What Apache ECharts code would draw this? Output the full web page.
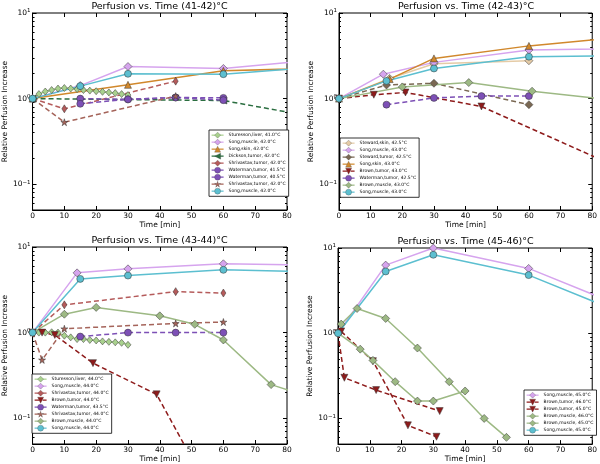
<!DOCTYPE html>
<html><head><meta charset="utf-8">
<script src="https://cdn.jsdelivr.net/npm/echarts@6/dist/echarts.min.js"></script>
<style>html,body{margin:0;padding:0;background:#fff}#c{width:600px;height:464px}</style>
</head><body><div id="c"></div><script>
// ---------- axis ticks ----------
const X_MIN = 0, X_MAX = 80, X_STEP = 10;
const Y_MIN = 0.05, Y_MAX = 10;
const Y_MAJOR = [0.1, 1, 10];
const Y_MINOR = [0.06, 0.07, 0.08, 0.09, 0.2, 0.3, 0.4, 0.5, 0.6, 0.7, 0.8, 0.9, 2, 3, 4, 5, 6, 7, 8, 9];
const TITLES = ['Perfusion vs. Time (41-42)°C', 'Perfusion vs. Time (42-43)°C', 'Perfusion vs. Time (43-44)°C', 'Perfusion vs. Time (45-46)°C'];
const X_NAME = 'Time [min]';
const Y_NAME = 'Relative Perfusion Increase';

// ---------- panel 1 (41-42 C) ----------
const p1_sturessonLiver41_t = [0, 2, 4, 6, 8, 10, 12, 14, 16, 18, 20, 22, 24, 26, 28, 30];
const p1_sturessonLiver41_v = [1.0, 1.13, 1.21, 1.26, 1.31, 1.33, 1.31, 1.29, 1.26, 1.24, 1.22, 1.20, 1.18, 1.16, 1.13, 1.10];
const p1_songMuscle42a_t = [0, 15, 30, 60, 120];
const p1_songMuscle42a_v = [1.0, 1.42, 2.37, 2.25, 3.6];
const p1_songSkin42_t = [0, 30, 60, 120];
const p1_songSkin42_v = [1.0, 1.45, 2.11, 2.42];
const p1_dicksonTumor42_t = [0, 60, 120];
const p1_dicksonTumor42_v = [1.0, 0.95, 0.377];
const p1_shrivastavTumor42a_t = [0, 10, 45];
const p1_shrivastavTumor42a_v = [1.0, 0.76, 1.6];
const p1_watermanTumor415_t = [15, 30, 45, 60];
const p1_watermanTumor415_v = [1.0, 0.98, 1.03, 1.02];
const p1_watermanTumor405_t = [15, 30, 45, 60];
const p1_watermanTumor405_v = [0.87, 0.98, 1.03, 0.96];
const p1_shrivastavTumor42b_t = [0, 10, 45];
const p1_shrivastavTumor42b_v = [1.0, 0.53, 1.07];
const p1_songMuscle42b_t = [0, 15, 30, 60, 120];
const p1_songMuscle42b_v = [1.0, 1.40, 1.95, 1.93, 2.84];

// ---------- panel 2 (42-43 C) ----------
const p2_stewardSkin425_t = [0, 16, 30, 60];
const p2_stewardSkin425_v = [1.0, 1.72, 2.55, 2.77];
const p2_songMuscle43a_t = [0, 14, 30, 60, 120];
const p2_songMuscle43a_v = [1.0, 1.93, 2.65, 3.7, 4.0];
const p2_stewardTumor425_t = [0, 15, 30, 60];
const p2_stewardTumor425_v = [1.0, 1.44, 1.51, 0.85];
const p2_songSkin43_t = [0, 16, 30, 60, 120];
const p2_songSkin43_v = [1.0, 1.69, 2.95, 4.13, 6.7];
const p2_brownTumor43_t = [0, 11, 21, 45, 120];
const p2_brownTumor43_v = [1.0, 1.11, 1.18, 0.81, 0.047];
const p2_watermanTumor425_t = [15, 30, 45, 60];
const p2_watermanTumor425_v = [0.85, 1.02, 1.07, 1.07];
const p2_brownMuscle43_t = [0, 20, 41, 61, 120];
const p2_brownMuscle43_v = [1.0, 1.37, 1.54, 1.22, 0.70];
const p2_songMuscle43b_t = [0, 15, 30, 60, 120];
const p2_songMuscle43b_v = [1.0, 1.61, 2.25, 3.09, 3.27];

// ---------- panel 3 (43-44 C) ----------
const p3_sturessonLiver44_t = [0, 2, 4, 6, 8, 10, 12, 14, 16, 18, 20, 22, 24, 26, 28, 30];
const p3_sturessonLiver44_v = [1.0, 1.0, 1.0, 1.01, 1.0, 0.92, 0.88, 0.84, 0.84, 0.82, 0.81, 0.79, 0.78, 0.77, 0.76, 0.72];
const p3_songMuscle44a_t = [0, 14, 30, 60, 120];
const p3_songMuscle44a_v = [1.0, 4.99, 5.56, 6.37, 5.86];
const p3_shrivastavTumor44a_t = [0, 10, 45, 60];
const p3_shrivastavTumor44a_v = [1.0, 2.11, 3.01, 2.9];
const p3_brownTumor44_t = [0, 3, 7, 19, 39, 60];
const p3_brownTumor44_v = [1.0, 1.0, 0.94, 0.44, 0.19, 0.0072];
const p3_watermanTumor435_t = [15, 30, 45, 60];
const p3_watermanTumor435_v = [0.90, 1.0, 1.0, 1.0];
const p3_shrivastavTumor44b_t = [0, 3, 10, 45, 60];
const p3_shrivastavTumor44b_v = [1.0, 0.48, 1.11, 1.28, 1.33];
const p3_brownMuscle44_t = [0, 10, 20, 40, 51, 60, 75, 90];
const p3_brownMuscle44_v = [1.0, 1.64, 1.97, 1.57, 1.25, 0.82, 0.247, 0.165];
const p3_songMuscle44b_t = [0, 15, 30, 60, 120];
const p3_songMuscle44b_v = [1.0, 4.24, 4.64, 5.41, 4.81];

// ---------- panel 4 (45-46 C) ----------
const p4_songMuscle45a_t = [0, 15, 30, 60, 90];
const p4_songMuscle45a_v = [1.0, 6.3, 9.98, 5.76, 2.03];
const p4_brownTumor46_t = [0, 2, 12, 32];
const p4_brownTumor46_v = [1.0, 0.30, 0.215, 0.122];
const p4_brownTumor45_t = [1, 11, 22, 31];
const p4_brownTumor45_v = [1.05, 0.47, 0.083, 0.061];
const p4_brownMuscle46_t = [0, 7, 11, 18, 25, 30, 40];
const p4_brownMuscle46_v = [1.0, 0.65, 0.48, 0.27, 0.16, 0.16, 0.21];
const p4_brownMuscle45_t = [1, 6, 15, 25, 35, 46, 53];
const p4_brownMuscle45_v = [1.28, 1.95, 1.49, 0.67, 0.27, 0.10, 0.06];
const p4_songMuscle45b_t = [0, 15, 30, 60, 90];
const p4_songMuscle45b_v = [1.0, 5.31, 8.33, 4.81, 1.69];

// ---------- styles ----------
const FONT = 'DejaVu Sans';
const STAR = 'path://M50 0 L61.8 35.1 L98.8 35.1 L68.9 56.8 L80.3 91.9 L50 70.2 L19.7 91.9 L31.1 56.8 L1.2 35.1 L38.2 35.1 Z';
const ST = {
  liver:  {color:'#a9d18e', symbol:'diamond', size:[6,7], dash:false},
  violet: {color:'#d6a4ee', symbol:'diamond', size:[8,8], dash:false},
  orange: {color:'#d1882c', symbol:'triangle', size:7, dash:false},
  dgreen: {color:'#2b6e40', symbol:'triangle', size:7, rotate:90, dash:true},
  shriv:  {color:'#b55b5b', symbol:'diamond', size:[5,8], dash:true},
  purple: {color:'#7d50b6', symbol:'circle', size:7, dash:true},
  star:   {color:'#a5645a', symbol:STAR, size:7, dash:true},
  cyan:   {color:'#5cbfd0', symbol:'circle', size:7, dash:false},
  beige:  {color:'#e5cba6', symbol:'diamond', size:[8,8], dash:false},
  taupe:  {color:'#7a6853', symbol:'diamond', size:[8,8], dash:true},
  dred:   {color:'#8e1b1b', symbol:'triangle', size:7, rotate:180, dash:true},
  sage:   {color:'#9db984', symbol:'diamond', size:[8,8], dash:false}
};

const PANELS = [
  [
    ['Sturesson,liver, 41.0°C', p1_sturessonLiver41_t, p1_sturessonLiver41_v, 'liver'],
    ['Song,muscle, 42.0°C', p1_songMuscle42a_t, p1_songMuscle42a_v, 'violet'],
    ['Song,skin, 42.0°C', p1_songSkin42_t, p1_songSkin42_v, 'orange'],
    ['Dickson,tumor, 42.0°C', p1_dicksonTumor42_t, p1_dicksonTumor42_v, 'dgreen'],
    ['Shrivastav,tumor, 42.0°C', p1_shrivastavTumor42a_t, p1_shrivastavTumor42a_v, 'shriv'],
    ['Waterman,tumor, 41.5°C', p1_watermanTumor415_t, p1_watermanTumor415_v, 'purple'],
    ['Waterman,tumor, 40.5°C', p1_watermanTumor405_t, p1_watermanTumor405_v, 'purple'],
    ['Shrivastav,tumor, 42.0°C', p1_shrivastavTumor42b_t, p1_shrivastavTumor42b_v, 'star'],
    ['Song,muscle, 42.0°C', p1_songMuscle42b_t, p1_songMuscle42b_v, 'cyan']
  ],
  [
    ['Steward,skin, 42.5°C', p2_stewardSkin425_t, p2_stewardSkin425_v, 'beige'],
    ['Song,muscle, 43.0°C', p2_songMuscle43a_t, p2_songMuscle43a_v, 'violet'],
    ['Steward,tumor, 42.5°C', p2_stewardTumor425_t, p2_stewardTumor425_v, 'taupe'],
    ['Song,skin, 43.0°C', p2_songSkin43_t, p2_songSkin43_v, 'orange'],
    ['Brown,tumor, 43.0°C', p2_brownTumor43_t, p2_brownTumor43_v, 'dred'],
    ['Waterman,tumor, 42.5°C', p2_watermanTumor425_t, p2_watermanTumor425_v, 'purple'],
    ['Brown,muscle, 43.0°C', p2_brownMuscle43_t, p2_brownMuscle43_v, 'sage'],
    ['Song,muscle, 43.0°C', p2_songMuscle43b_t, p2_songMuscle43b_v, 'cyan']
  ],
  [
    ['Sturesson,liver, 44.0°C', p3_sturessonLiver44_t, p3_sturessonLiver44_v, 'liver'],
    ['Song,muscle, 44.0°C', p3_songMuscle44a_t, p3_songMuscle44a_v, 'violet'],
    ['Shrivastav,tumor, 44.0°C', p3_shrivastavTumor44a_t, p3_shrivastavTumor44a_v, 'shriv'],
    ['Brown,tumor, 44.0°C', p3_brownTumor44_t, p3_brownTumor44_v, 'dred'],
    ['Waterman,tumor, 43.5°C', p3_watermanTumor435_t, p3_watermanTumor435_v, 'purple'],
    ['Shrivastav,tumor, 44.0°C', p3_shrivastavTumor44b_t, p3_shrivastavTumor44b_v, 'star'],
    ['Brown,muscle, 44.0°C', p3_brownMuscle44_t, p3_brownMuscle44_v, 'sage'],
    ['Song,muscle, 44.0°C', p3_songMuscle44b_t, p3_songMuscle44b_v, 'cyan']
  ],
  [
    ['Song,muscle, 45.0°C', p4_songMuscle45a_t, p4_songMuscle45a_v, 'violet'],
    ['Brown,tumor, 46.0°C', p4_brownTumor46_t, p4_brownTumor46_v, 'dred'],
    ['Brown,tumor, 45.0°C', p4_brownTumor45_t, p4_brownTumor45_v, 'dred'],
    ['Brown,muscle, 46.0°C', p4_brownMuscle46_t, p4_brownMuscle46_v, 'sage'],
    ['Brown,muscle, 45.0°C', p4_brownMuscle45_t, p4_brownMuscle45_v, 'sage'],
    ['Song,muscle, 45.0°C', p4_songMuscle45b_t, p4_songMuscle45b_v, 'cyan']
  ]
];

// ---------- layout ----------
const GRIDS = [
  {left:32, top:13, width:255, height:197},
  {left:339, top:13, width:254, height:197},
  {left:32, top:247, width:255, height:197},
  {left:338, top:248, width:255, height:197}
];
const LEGEND_POS = [
  {left:209, top:130},
  {left:340, top:138},
  {left:32, top:374},
  {left:524, top:390}
];

const grid = [], xAxis = [], yAxis = [], series = [], legend = [], graphic = [];
const tickLine = {lineStyle:{color:'#000', width:1}};

function supLabel(v) {
  const e = Math.round(Math.log10(v));
  return '{b|10}{s|' + (e < 0 ? '\u2212' + (-e) : e) + '}';
}

PANELS.forEach((panel, k) => {
  const g = GRIDS[k];
  grid.push(Object.assign({show:true, borderColor:'#000', borderWidth:1, backgroundColor:'#fff', containLabel:false}, g));
  xAxis.push({
    gridIndex:k, type:'value', min:X_MIN, max:X_MAX, interval:X_STEP, position:'bottom',
    axisLine:{show:true, lineStyle:{color:'#000'}},
    axisTick:Object.assign({show:true, inside:true, length:4}, tickLine),
    axisLabel:{fontSize:7.5, fontFamily:FONT, color:'#000', margin:2},
    splitLine:{show:false},
    name:X_NAME, nameLocation:'middle', nameGap:10,
    nameTextStyle:{fontSize:7.5, fontFamily:FONT, color:'#000'}
  });
  xAxis.push({
    gridIndex:k, type:'value', min:X_MIN, max:X_MAX, interval:X_STEP, position:'top',
    axisLine:{show:false},
    axisTick:Object.assign({show:true, inside:true, length:4}, tickLine),
    axisLabel:{show:false}, splitLine:{show:false}
  });
  const yBase = {gridIndex:k, type:'log', logBase:10, min:Y_MIN, max:Y_MAX, splitLine:{show:false}, minorTick:{show:false}};
  yAxis.push(Object.assign({}, yBase, {
    position:'left',
    axisLine:{show:true, lineStyle:{color:'#000'}},
    axisTick:Object.assign({show:true, inside:true, length:4, customValues:Y_MAJOR}, tickLine),
    axisLabel:{
      customValues:Y_MAJOR, margin:2, formatter:supLabel,
      rich:{
        b:{fontSize:7.5, fontFamily:FONT, color:'#000', lineHeight:10},
        s:{fontSize:5.5, fontFamily:FONT, color:'#000', lineHeight:6, verticalAlign:'top'}
      }
    },
    name:Y_NAME, nameLocation:'middle', nameGap:15,
    nameTextStyle:{fontSize:7.5, fontFamily:FONT, color:'#000'}
  }));
  yAxis.push(Object.assign({}, yBase, {
    position:'left', axisLine:{show:false},
    axisTick:Object.assign({show:true, inside:true, length:2, customValues:Y_MINOR}, tickLine),
    axisLabel:{show:false}
  }));
  yAxis.push(Object.assign({}, yBase, {
    position:'right', axisLine:{show:false},
    axisTick:Object.assign({show:true, inside:true, length:4, customValues:Y_MAJOR}, tickLine),
    axisLabel:{show:false}
  }));
  yAxis.push(Object.assign({}, yBase, {
    position:'right', axisLine:{show:false},
    axisTick:Object.assign({show:true, inside:true, length:2, customValues:Y_MINOR}, tickLine),
    axisLabel:{show:false}
  }));

  graphic.push({
    type:'text', x:g.left + g.width / 2, y:g.top - 6,
    style:{text:TITLES[k], fontSize:9.5, fontFamily:FONT, fill:'#000', align:'center', verticalAlign:'middle', textAlign:'center', textVerticalAlign:'middle'},
    silent:true
  });

  const seen = {};
  const names = [];
  panel.forEach(([label, t, v, sk]) => {
    let name = label;
    while (seen[name]) name += '\u200B';
    seen[name] = true;
    names.push(name);
    const st = ST[sk];
    series.push({
      type:'line', name, xAxisIndex:k * 2, yAxisIndex:k * 4,
      data:t.map((x, i) => [x, v[i]]),
      symbol:st.symbol, symbolSize:st.size, symbolRotate:st.rotate || 0, showAllSymbol:true,
      lineStyle:{color:st.color, width:1.5, type:st.dash ? [5, 3] : 'solid'},
      itemStyle:{color:st.color, borderColor:'#333', borderWidth:0.5},
      emphasis:{disabled:true}, clip:true, animation:false, silent:true
    });
  });

  legend.push({
    data:names.map((n, i) => {
      const st = ST[panel[i][3]];
      return {name:n, itemStyle:{color:st.color, borderWidth:0.3, borderColor:'#444'}, lineStyle:{color:st.color, width:1.2}};
    }),
    orient:'vertical', left:LEGEND_POS[k].left, top:LEGEND_POS[k].top,
    itemWidth:12, itemHeight:7.5, itemGap:0.7, padding:[2, 3, 2, 2],
    borderColor:'#000', borderWidth:0.8, backgroundColor:'#fff', borderRadius:0,
    selectedMode:false,
    textStyle:{fontSize:4.5, fontFamily:FONT, color:'#000', lineHeight:6}
  });
});

const chart = echarts.init(document.getElementById('c'), null, {renderer:'canvas'});
chart.setOption({
  animation:false, backgroundColor:'#fff',
  grid, xAxis, yAxis, series, legend, graphic
});
</script></body></html>
